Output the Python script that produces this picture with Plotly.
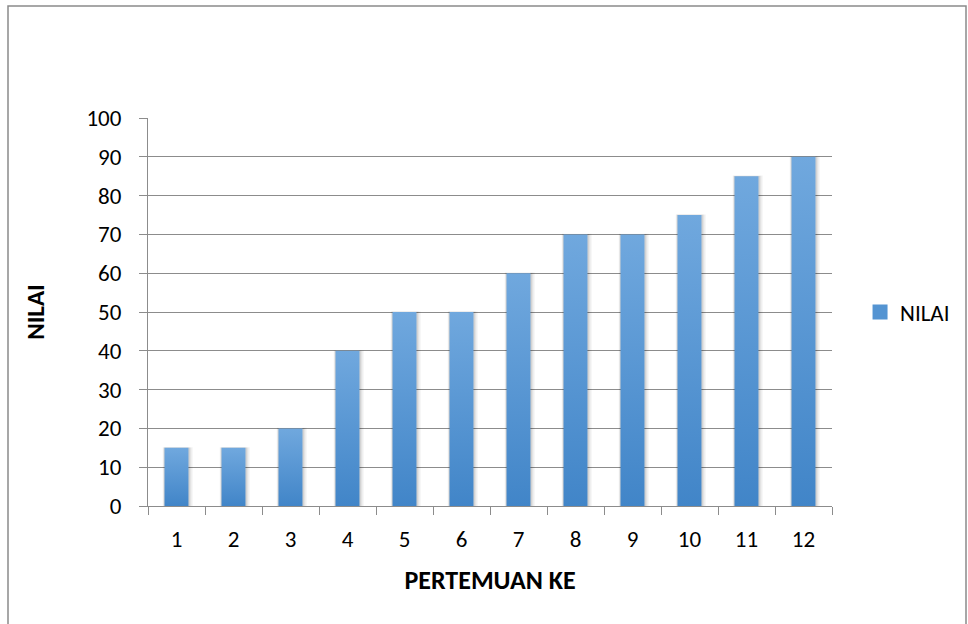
import plotly.graph_objects as go

# Scores per meeting
meetings = ["1", "2", "3", "4", "5", "6", "7", "8", "9", "10", "11", "12"]
nilai = [15, 15, 20, 40, 50, 50, 60, 70, 70, 75, 85, 90]
y_ticks = [0, 10, 20, 30, 40, 50, 60, 70, 80, 90, 100]

BAR_HALF = 0.21
TOP_COLOR = "#70a8de"
BOTTOM_COLOR = "#4185c8"
FONT = "Carlito, Calibri, Lato, sans-serif"

fig = go.Figure()

positions = list(range(1, len(meetings) + 1))

# soft shadow around each bar
for pos, val in zip(positions, nilai):
    for k, alpha in [(3, 0.05), (2, 0.06), (1, 0.08)]:
        dx = 0.0175 * k
        dy = 0.258 * k
        x0, x1 = pos - BAR_HALF - dx * 0.6, pos + BAR_HALF + dx * 1.4
        y1 = val + dy * 0.2
        fig.add_trace(go.Scatter(
            x=[x0, x0, x1, x1, x0], y=[0, y1, y1, 0, 0],
            mode="lines", fill="toself", line=dict(width=0),
            fillcolor=f"rgba(0,0,0,{alpha})",
            hoverinfo="skip", showlegend=False,
        ))

# bars with a vertical gradient (lighter at top)
for pos, val in zip(positions, nilai):
    x0, x1 = pos - BAR_HALF, pos + BAR_HALF
    fig.add_trace(go.Scatter(
        x=[x0, x0, x1, x1, x0], y=[0, val, val, 0, 0],
        mode="lines", fill="toself", line=dict(width=0),
        fillgradient=dict(type="vertical",
                          colorscale=[[0, BOTTOM_COLOR], [1, TOP_COLOR]]),
        hovertemplate=f"{meetings[pos-1]}: {val}<extra></extra>",
        showlegend=False,
    ))

# legend entry
fig.add_trace(go.Scatter(x=[None], y=[None], name="NILAI", mode="markers",
                         marker=dict(symbol="square", size=15, color="#5494d2",
                                     line=dict(width=0)),
                         showlegend=True))

fig.update_layout(
    width=968, height=624,
    margin=dict(l=148, r=136, t=118, b=118),
    paper_bgcolor="white", plot_bgcolor="white",
    font=dict(family=FONT, size=23, color="black"),
    showlegend=True,
    legend=dict(x=1.041, y=0.5, xanchor="left", yanchor="middle",
                font=dict(family=FONT, size=23, color="black"),
                bgcolor="rgba(0,0,0,0)"),
    xaxis=dict(
        range=[0.5, 12.5], tickvals=positions, ticktext=meetings,
        showgrid=False, zeroline=False, showline=True,
        linecolor="#8c8c8c", linewidth=1, ticks="", ticklen=0,
        ticklabelstandoff=12,
        minor=dict(tickvals=[p - 0.5 for p in positions] + [12.5],
                   ticks="outside", ticklen=8, tickcolor="#8c8c8c",
                   tickwidth=1, showgrid=False),
        title=dict(text="<b>PERTEMUAN KE</b>", standoff=19,
                   font=dict(family=FONT, size=26)),
        fixedrange=True,
    ),
    yaxis=dict(
        range=[0, 100], tickvals=y_ticks,
        showgrid=True, gridcolor="#8c8c8c", gridwidth=1,
        zeroline=False, showline=True, linecolor="#8c8c8c", linewidth=1,
        ticks="outside", ticklen=8, tickcolor="#8c8c8c",
        ticklabelstandoff=13,
        title=dict(text="<b>NILAI</b>", standoff=34,
                   font=dict(family=FONT, size=25)),
        fixedrange=True,
    ),
    shapes=[dict(type="rect", xref="paper", yref="paper",
                 x0=(8 - 148) / 684, x1=(966 - 148) / 684,
                 y0=(506 - 640) / 388, y1=(506 - 6) / 388,
                 line=dict(color="#8a8a8a", width=1.5), layer="below")],
)

fig.write_html("out.html")
